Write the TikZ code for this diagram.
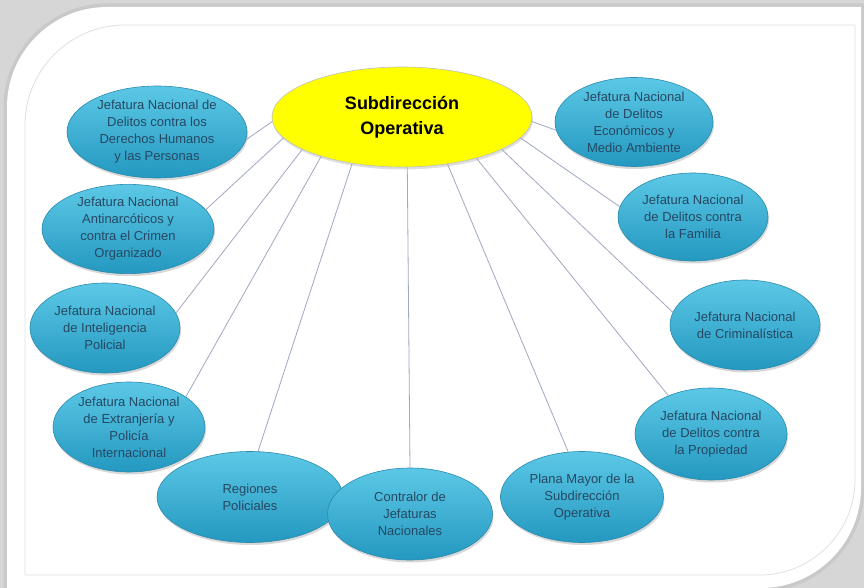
\documentclass[tikz,border=0pt]{standalone}
\usepackage{fontspec}
\setmainfont{Liberation Sans}
\usepackage{tikz}
\usetikzlibrary{shapes.geometric, shadows}
\usepackage{xcolor}
\definecolor{elipsetop}{RGB}{92,200,230}
\definecolor{elipsebot}{RGB}{36,152,192}
\definecolor{elipseline}{RGB}{42,138,174}
\definecolor{textoazul}{RGB}{38,72,98}
\definecolor{conector}{RGB}{160,168,194}
\definecolor{amarillo}{RGB}{255,255,0}
\definecolor{fondo}{RGB}{214,214,214}
\definecolor{marcogris}{RGB}{222,224,230}
\tikzset{
  jefatura/.style={ellipse, inner sep=0pt, top color=elipsetop, bottom color=elipsebot,
    draw=elipseline, line width=0.6pt, text=textoazul, align=center,
    font=\fontsize{13}{17}\selectfont,
    drop shadow={opacity=0.3, shadow xshift=1pt, shadow yshift=-2.5pt}},
  central/.style={ellipse, inner sep=0pt, fill=amarillo, draw=black!25, line width=0.6pt,
    align=center, font=\bfseries\fontsize{18}{25}\selectfont,
    drop shadow={opacity=0.25, shadow xshift=1pt, shadow yshift=-2.5pt}},
  enlace/.style={draw=conector, line width=0.8pt}
}

\begin{document}
\begin{tikzpicture}[x=1pt, y=-1pt]
        \useasboundingbox (0,0) rectangle (864,588);
        \fill[fondo] (0,0) rectangle (864,588);
        \path[fill=white, preaction={draw=black!30, line width=7pt, opacity=0.35}]
            (7,107) .. controls (7,52) and (52,7) .. (107,7) -- (861,7) -- (861,488)
            .. controls (861,543) and (816,588) .. (761,588) -- (7,588) -- cycle;
        \draw[marcogris, line width=0.8pt] (25,125) .. controls (25,70) and (70,25) .. (125,25)
            -- (855,25) -- (855,480) .. controls (855,532) and (812,575) .. (760,575) -- (25,575) -- cycle;

        \node[central, minimum width=260pt, minimum height=100pt] (sub) at (402,117) {Subdirección\\Operativa};

        \node[jefatura, minimum width=180pt, minimum height=92pt] (ddhh) at (157,132) {Jefatura Nacional de\\Delitos contra los\\Derechos Humanos\\y las Personas};
        \node[jefatura, minimum width=172pt, minimum height=88pt] (antidro) at (128,229) {Jefatura Nacional\\Antinarcóticos y\\contra el Crimen\\Organizado};
        \node[jefatura, minimum width=150pt, minimum height=90pt] (intel) at (105,328) {Jefatura Nacional\\de Inteligencia\\Policial};
        \node[jefatura, minimum width=152pt, minimum height=90pt] (extra) at (129,427) {Jefatura Nacional\\de Extranjería y\\Policía\\Internacional};
        \node[jefatura, minimum width=186pt, minimum height=91pt] (reg) at (250,497) {Regiones\\Policiales};
        \node[jefatura, minimum width=165pt, minimum height=92pt] (contr) at (410,514) {Contralor de\\Jefaturas\\Nacionales};
        \node[jefatura, minimum width=163pt, minimum height=91pt] (plana) at (582,497) {Plana Mayor de la\\Subdirección\\Operativa};
        \node[jefatura, minimum width=152pt, minimum height=92pt] (prop) at (711,434) {Jefatura Nacional\\de Delitos contra\\la Propiedad};
        \node[jefatura, minimum width=150pt, minimum height=90pt] (crim) at (745,325) {Jefatura Nacional\\de Criminalística};
        \node[jefatura, minimum width=150pt, minimum height=88pt] (fam) at (693,217) {Jefatura Nacional\\de Delitos contra\\la Familia};
        \node[jefatura, minimum width=158pt, minimum height=89pt] (econ) at (634,122) {Jefatura Nacional\\de Delitos\\Económicos y\\Medio Ambiente};

        \draw[enlace] (sub.182) -- (ddhh.355);
        \draw[enlace] (sub.190) -- (antidro.14);
        \draw[enlace] (sub.198) -- (intel.12);
        \draw[enlace] (sub.206) -- (extra.28);
        \draw[enlace] (sub.223) -- (reg.80);
        \draw[enlace] (sub.276) -- (contr.90);
        \draw[enlace] (sub.314) -- (plana.107);
        \draw[enlace] (sub.331) -- (prop.138);
        \draw[enlace] (sub.342) -- (crim.170);
        \draw[enlace] (sub.350) -- (fam.172);
        \draw[enlace] (sub.358) -- (econ.186);
    \end{tikzpicture}
\end{document}
